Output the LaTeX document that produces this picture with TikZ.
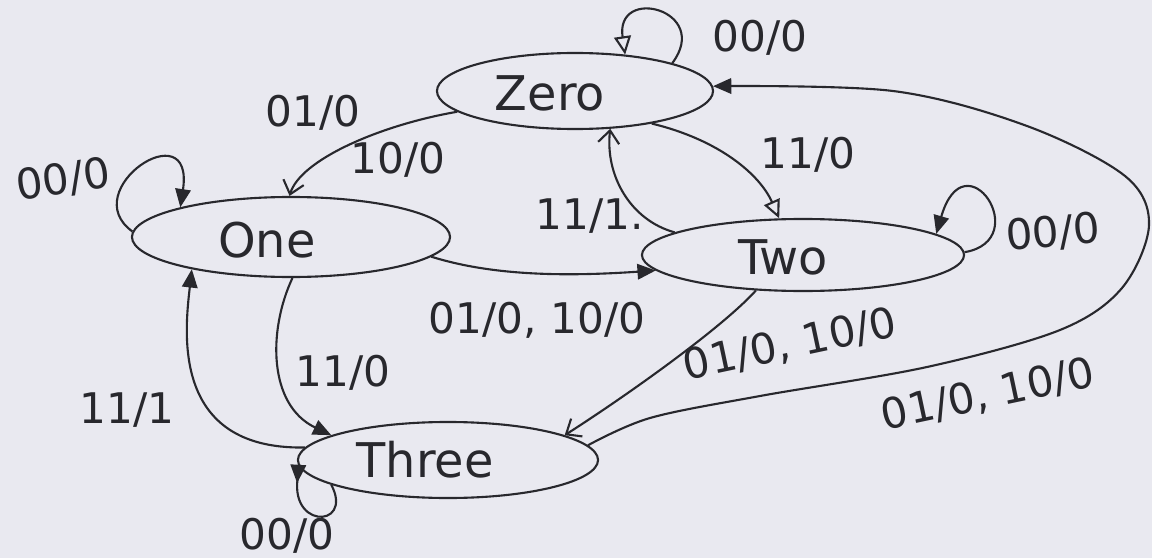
\documentclass[tikz,border=0pt]{standalone}
\usepackage{fontspec}
\setmainfont{DejaVu Sans}
\usetikzlibrary{shapes.geometric, arrows.meta, decorations.markings}
\definecolor{paper}{RGB}{233,233,240}
\definecolor{ink}{RGB}{40,40,45}
\begin{document}
\begin{tikzpicture}[x=0.025cm, y=-0.025cm,
  state/.style={ellipse, draw=ink, line width=1.5pt, inner sep=0pt},
  stname/.style={font=\fontsize{34}{40}\selectfont, text=ink, inner sep=0pt},
  lbl/.style={font=\fontsize{30}{36}\selectfont, text=ink, inner sep=0pt},
  edge/.style={draw=ink, line width=1.5pt},
  fillhead/.style={-{Triangle[length=13pt,width=11pt]}},
  openhead/.style={-{Triangle[open,length=13pt,width=12pt]}},
  barb/.style={-{Straight Barb[length=9pt,width=15pt]}},
  midhead/.style={postaction={decorate}, decoration={markings, mark=at position 0.15 with {\arrow{Triangle[length=13pt,width=11pt]}}}}
]
\fill[paper] (0,0) rectangle (1152,558);
\useasboundingbox (0,0) rectangle (1152,558);

% states
\node[state, minimum width=6.9cm, minimum height=1.9cm] (zero) at (575,91) {};
\node[state, minimum width=7.95cm, minimum height=2.0cm] (one) at (291,237) {};
\node[state, minimum width=8.05cm, minimum height=1.8cm] (two) at (803,255) {};
\node[state, minimum width=7.5cm, minimum height=1.9cm] (three) at (448,460) {};

\node[stname] (zerot) at (550,93) {Zero};
\node[stname] (onet) at (267,240) {One};
\node[stname] (twot) at (783,257) {Two};
\node[stname] (threet) at (425,460) {Three};

% transitions
\draw[edge, openhead] (zero.16) .. controls (712,10) and (615,-15) .. (zero.36);
\draw[edge, fillhead] plot[smooth, tension=0.55] coordinates {(three.6) (650,418) (760,396) (927,367) (1060,330) (1122,288) (1149,225) (1125,176) (1027,126) (893,91) (zero.2)};
\draw[edge, barb] (zero.190) .. controls (380,125) and (300,160) .. (one.92);
\draw[edge, openhead] (zero.-23) .. controls (720,140) and (760,175) .. (two.123);
\draw[edge, barb] (two.170) .. controls (630,220) and (605,175) .. (zero.313);
\draw[edge, fillhead] (one.-8) .. controls (490,275) and (560,277) .. (two.186);
\draw[edge, fillhead] (one.178) .. controls (75,190) and (195,110) .. (one.165);
\draw[edge, fillhead] (two.1) .. controls (1035,240) and (965,135) .. (two.9);
\draw[edge, fillhead] (one.-88) .. controls (268,330) and (268,405) .. (three.168);
\draw[edge, fillhead] (three.175) .. controls (170,450) and (185,330) .. (one.198);
\draw[edge, midhead] (three.183) .. controls (282,530) and (355,530) .. (three.192);
\draw[edge, barb] (two.217) .. controls (720,330) and (620,400) .. (three.12);

% labels
\node[lbl] (l1) at (760,38) {00/0};
\node[lbl] (l2) at (313,113) {01/0};
\node[lbl] (l3) at (398,160) {10/0};
\node[lbl, rotate=8] (l4) at (63,180) {00/0};
\node[lbl] (l5) at (808,155) {11/0};
\node[lbl] (l6) at (590,216) {11/1.};
\node[lbl, rotate=5] (l7) at (1053,233) {00/0};
\node[lbl] (l8) at (537,320) {01/0, 10/0};
\node[lbl, rotate=12] (l9) at (790,345) {01/0, 10/0};
\node[lbl, rotate=12] (l10) at (988,395) {01/0, 10/0};
\node[lbl] (l11) at (343,373) {11/0};
\node[lbl] (l12) at (127,410) {11/1};
\node[lbl] (l13) at (287,536) {00/0};
\end{tikzpicture}
\end{document}
